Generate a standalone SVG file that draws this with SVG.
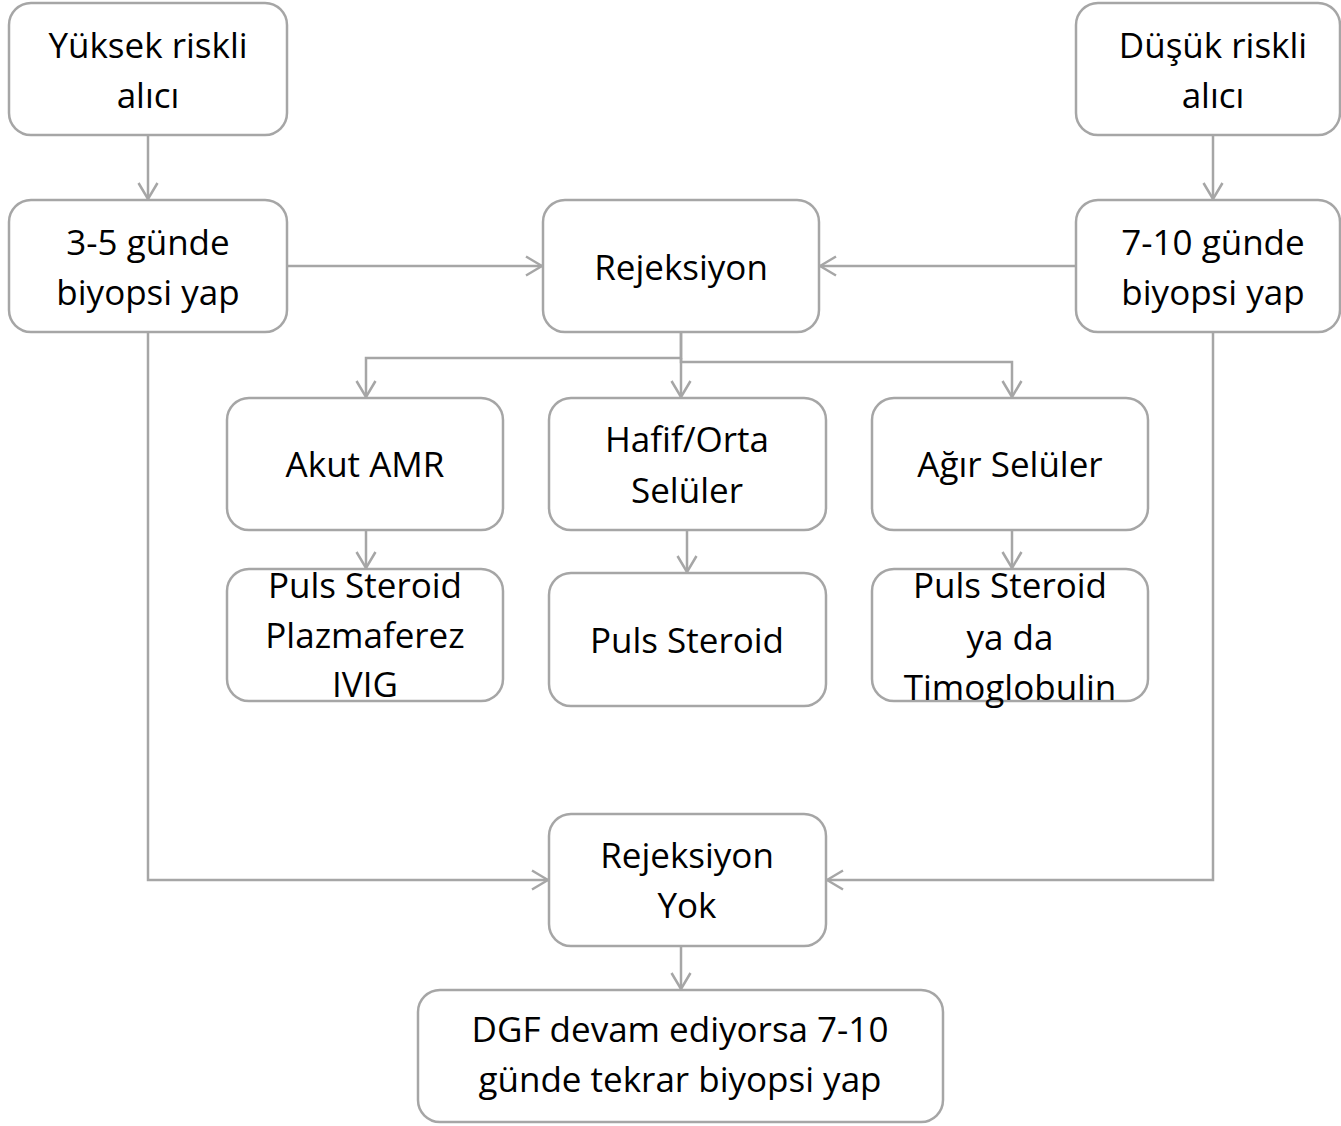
<svg xmlns="http://www.w3.org/2000/svg" width="1341" height="1126" viewBox="0 0 1341 1126">
<style>
.box{fill:#fff;stroke:#a6a6a6;stroke-width:2.5}
.t{font-family:"Open Sans","Liberation Sans",sans-serif;font-size:35px;fill:#000;text-anchor:middle}
.c{fill:none;stroke:#a6a6a6;stroke-width:2.5}
</style>
<defs>
<marker id="a" markerUnits="userSpaceOnUse" viewBox="0 0 18 22" refX="17" refY="11" markerWidth="18" markerHeight="22" orient="auto">
<path d="M1,1.5 L17,11 L1,20.5" fill="none" stroke="#a6a6a6" stroke-width="2.5"/>
</marker>
</defs>
<rect width="1341" height="1126" fill="#fff"/>
<g id="connectors">
<path class="c" d="M148,135 V199" marker-end="url(#a)"/>
<path class="c" d="M1213,135 V199" marker-end="url(#a)"/>
<path class="c" d="M287,266 H542" marker-end="url(#a)"/>
<path class="c" d="M1076,266 H820" marker-end="url(#a)"/>
<path class="c" d="M681,332 V358 H366 V397" marker-end="url(#a)"/>
<path class="c" d="M681,332 V397" marker-end="url(#a)"/>
<path class="c" d="M681,358 V362 H1012 V397" marker-end="url(#a)"/>
<path class="c" d="M366,530 V568" marker-end="url(#a)"/>
<path class="c" d="M687,530 V572" marker-end="url(#a)"/>
<path class="c" d="M1012,530 V568" marker-end="url(#a)"/>
<path class="c" d="M148,332 V880 H548" marker-end="url(#a)"/>
<path class="c" d="M1213,332 V880 H827" marker-end="url(#a)"/>
<path class="c" d="M681,946 V989" marker-end="url(#a)"/>
</g>
<g id="n1"><rect class="box" x="9" y="3" width="278" height="132" rx="22"/><text class="t" x="148" y="58">Yüksek riskli</text><text class="t" x="148" y="108">alıcı</text></g>
<g id="n2"><rect class="box" x="1076" y="3" width="264" height="132" rx="22"/><text class="t" x="1213" y="58">Düşük riskli</text><text class="t" x="1213" y="108">alıcı</text></g>
<g id="n3"><rect class="box" x="9" y="200" width="278" height="132" rx="22"/><text class="t" x="148" y="255">3-5 günde</text><text class="t" x="148" y="305">biyopsi yap</text></g>
<g id="n4"><rect class="box" x="543" y="200" width="276" height="132" rx="22"/><text class="t" x="681" y="280">Rejeksiyon</text></g>
<g id="n5"><rect class="box" x="1076" y="200" width="264" height="132" rx="22"/><text class="t" x="1213" y="255">7-10 günde</text><text class="t" x="1213" y="305">biyopsi yap</text></g>
<g id="n6"><rect class="box" x="227" y="398" width="276" height="132" rx="22"/><text class="t" x="365" y="477">Akut AMR</text></g>
<g id="n7"><rect class="box" x="549" y="398" width="277" height="132" rx="22"/><text class="t" x="687" y="452">Hafif/Orta</text><text class="t" x="687" y="503">Selüler</text></g>
<g id="n8"><rect class="box" x="872" y="398" width="276" height="132" rx="22"/><text class="t" x="1010" y="477">Ağır Selüler</text></g>
<g id="n9"><rect class="box" x="227" y="569" width="276" height="132" rx="22"/><text class="t" x="365" y="598">Puls Steroid</text><text class="t" x="365" y="648">Plazmaferez</text><text class="t" x="365" y="697">IVIG</text></g>
<g id="n10"><rect class="box" x="549" y="573" width="277" height="133" rx="22"/><text class="t" x="687" y="653">Puls Steroid</text></g>
<g id="n11"><rect class="box" x="872" y="569" width="276" height="132" rx="22"/><text class="t" x="1010" y="598">Puls Steroid</text><text class="t" x="1010" y="650">ya da</text><text class="t" x="1010" y="700">Timoglobulin</text></g>
<g id="n12"><rect class="box" x="549" y="814" width="277" height="132" rx="22"/><text class="t" x="687" y="868">Rejeksiyon</text><text class="t" x="687" y="918">Yok</text></g>
<g id="n13"><rect class="box" x="418" y="990" width="525" height="132" rx="22"/><text class="t" x="680" y="1042">DGF devam ediyorsa 7-10</text><text class="t" x="680" y="1092">günde tekrar biyopsi yap</text></g>
</svg>
